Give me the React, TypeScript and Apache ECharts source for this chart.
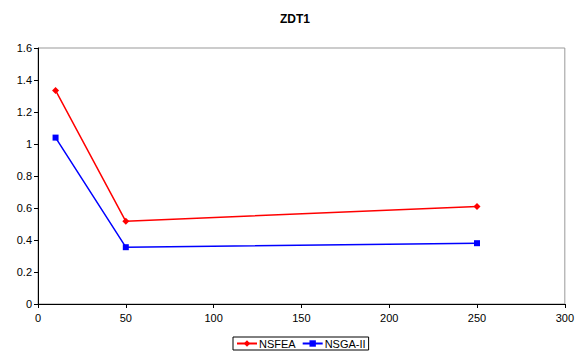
import React, { useEffect, useRef } from "react";
import * as echarts from "echarts";

const xValues = [10, 50, 250];
const nsfea = [1.335, 0.517, 0.61];
const nsga2 = [1.04, 0.355, 0.38];
const seriesNames = ["NSFEA", "NSGA-II"];

export default function App() {
  const ref = useRef<HTMLDivElement>(null);
  useEffect(() => {
    const chart = echarts.init(ref.current!, null, { renderer: "svg" });
    const font = "Liberation Sans, Arial, sans-serif";
    chart.setOption({
      animation: false,
      title: {
        text: "ZDT1",
        left: 290,
        textAlign: "center",
        top: 8,
        textStyle: { fontFamily: font, fontSize: 12, fontWeight: "bold", color: "#000" },
      },
      grid: {
        left: 38,
        top: 48,
        right: 10,
        bottom: 51,
        show: true,
        borderColor: "#999",
        borderWidth: 1,
      },
      legend: {
        bottom: 5,
        left: 233,
        itemGap: 6,
        itemWidth: 20,
        itemHeight: 8,
        padding: [1, 3, 1, 3],
        borderColor: "#000",
        borderWidth: 1,
        borderRadius: 0,
        textStyle: { fontFamily: font, fontSize: 11, color: "#000", padding: [0, 0, 0, -3] },
        data: seriesNames,
      },
      xAxis: {
        type: "value",
        min: 0,
        max: 300,
        interval: 50,
        axisLine: { lineStyle: { color: "#000" } },
        axisTick: { show: true, length: 4, lineStyle: { color: "#000" } },
        axisLabel: { fontFamily: font, fontSize: 11, color: "#000", margin: 8 },
        splitLine: { show: false },
      },
      yAxis: {
        type: "value",
        min: 0,
        max: 1.6,
        interval: 0.2,
        axisLine: { show: true, lineStyle: { color: "#000" } },
        axisTick: { show: true, length: 4, lineStyle: { color: "#000" } },
        axisLabel: { fontFamily: font, fontSize: 11, color: "#000", margin: 6 },
        splitLine: { show: false },
      },
      series: [
        {
          name: seriesNames[0],
          type: "line",
          data: xValues.map((x, i) => [x, nsfea[i]]),
          color: "#ff0000",
          symbol: "diamond",
          symbolSize: 7,
          lineStyle: { width: 1.5 },
        },
        {
          name: seriesNames[1],
          type: "line",
          data: xValues.map((x, i) => [x, nsga2[i]]),
          color: "#0000ff",
          symbol: "rect",
          symbolSize: 6,
          lineStyle: { width: 1.5 },
        },
      ],
    });
    return () => chart.dispose();
  }, []);
  return <div ref={ref} style={{ width: 577, height: 355, position: "absolute", left: 0, top: 0 }} />;
}
